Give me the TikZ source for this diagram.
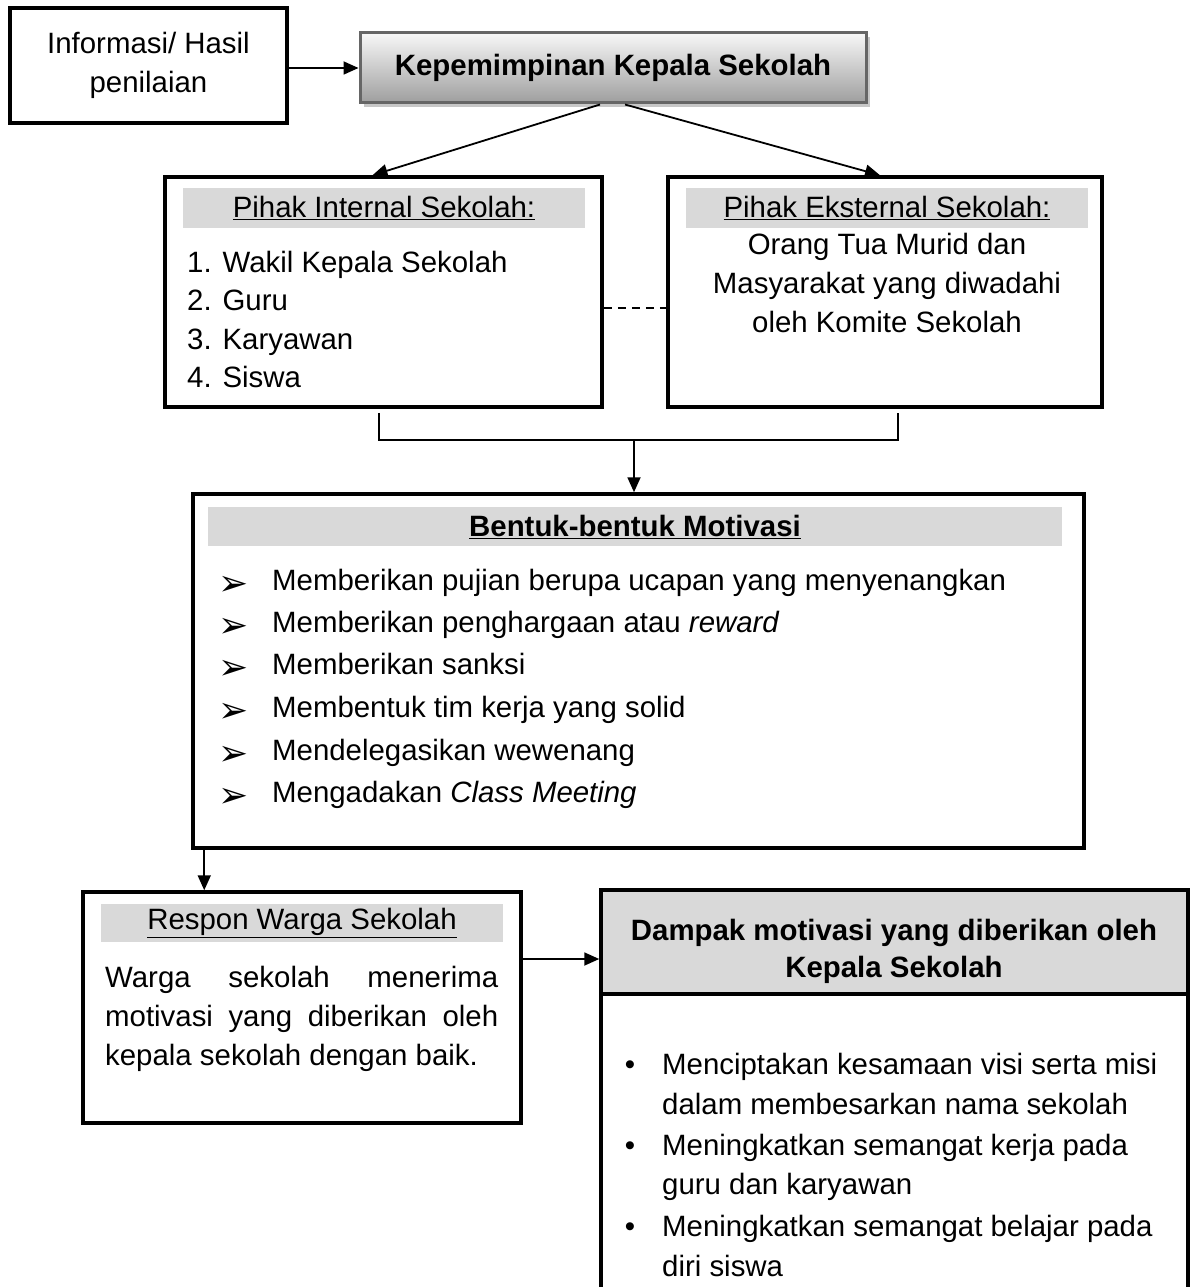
\documentclass[tikz,border=0pt]{standalone}
\usepackage{fontspec}
\setmainfont{Liberation Sans}
\newfontfamily\djv{DejaVu Sans}
\usetikzlibrary{arrows.meta,shadows}
\begin{document}
\begin{tikzpicture}[x=1pt,y=-1pt,
  bx/.style={draw=black, line width=3.5pt, fill=white, inner sep=0pt},
  hdr/.style={fill=black!15, draw=none, inner sep=0pt},
  conn/.style={line width=1.8pt},
  arr/.style={conn, -{Triangle[length=15pt,width=13pt]}},
  dashline/.style={line width=1.5pt, dash pattern=on 8pt off 6pt},
  txt/.style={font=\fontsize{29.4}{39}\selectfont, inner sep=0pt},
  btxt/.style={font=\fontsize{29.4}{39}\selectfont\bfseries, inner sep=0pt},
]
\useasboundingbox (0,0) rectangle (1190,1287);
\clip (0,0) rectangle (1190,1287);

% boxes
\node[bx, minimum width=277pt, minimum height=115pt] (info) at (148.5,65.5) {};
\node[draw=black!60, line width=3pt, top color=black!3, bottom color=black!38,
      minimum width=506pt, minimum height=70pt, inner sep=0pt,
      drop shadow={shadow xshift=4pt, shadow yshift=-4pt, fill=black!22, opacity=1}] (kep) at (613,68) {};
\node[bx, minimum width=437pt, minimum height=230pt] (int) at (383.5,292) {};
\node[bx, minimum width=434pt, minimum height=230pt] (ext) at (885,292) {};
\node[bx, minimum width=891pt, minimum height=354pt] (bentuk) at (638.5,671) {};
\node[bx, minimum width=438pt, minimum height=231pt] (respon) at (302,1007.5) {};
\node[bx, minimum width=587pt, minimum height=430pt] (dampak) at (894.5,1105) {};
\node[bx, fill=black!15, minimum width=587pt, minimum height=104pt] (dampH) at (894.5,942) {};

% header bars
\node[hdr, minimum width=402pt, minimum height=40pt] (intH) at (384,208) {};
\node[hdr, minimum width=402pt, minimum height=40pt] (extH) at (887,208) {};
\node[hdr, minimum width=854pt, minimum height=39pt] (bentH) at (635,526.5) {};
\node[hdr, minimum width=402pt, minimum height=38pt] (respH) at (302,923) {};

% texts
\node[txt, align=center] (infoT) at (info) {Informasi/ Hasil\\penilaian};
\node[btxt] (kepT) at (kep) {Kepemimpinan Kepala Sekolah};
\node[txt] (intHT) at (intH) {\underline{Pihak Internal Sekolah:}};
\node[txt] (extHT) at (extH) {\underline{Pihak Eksternal Sekolah:}};
\node[txt, anchor=base west] (i1) at (187,272) {1. Wakil Kepala Sekolah};
\node[txt, anchor=base west] (i2) at (187,310) {2. Guru};
\node[txt, anchor=base west] (i3) at (187,349) {3. Karyawan};
\node[txt, anchor=base west] (i4) at (187,387) {4. Siswa};
\node[txt, anchor=base] (e1) at (887,254) {Orang Tua Murid dan};
\node[txt, anchor=base] (e2) at (887,293) {Masyarakat yang diwadahi};
\node[txt, anchor=base] (e3) at (887,332) {oleh Komite Sekolah};

\node[btxt] (bentHT) at (bentH) {\underline{Bentuk-bentuk Motivasi}};
\foreach \yy/\tt [count=\k] in {590/{Memberikan pujian berupa ucapan yang menyenangkan},
  632/{Memberikan penghargaan atau \textit{reward}},
  674/{Memberikan sanksi},
  717/{Membentuk tim kerja yang solid},
  760/{Mendelegasikan wewenang},
  802/{Mengadakan \textit{Class Meeting}}}{
  \node[txt, anchor=base, font=\djv\fontsize{36}{40}\selectfont] (bm\k) at (234,\yy+5) {➢};
  \node[txt, anchor=base west] (bt\k) at (272,\yy) {\tt};
}

\node[txt] (respHT) at (respH) {\underline{Respon Warga Sekolah}};
\node[txt, anchor=base west] (r1) at (105,987) {\makebox[393pt][s]{Warga sekolah menerima}};
\node[txt, anchor=base west] (r2) at (105,1026) {\makebox[393pt][s]{motivasi yang diberikan oleh}};
\node[txt, anchor=base west] (r3) at (105,1065) {kepala sekolah dengan baik.};

\node[btxt, anchor=base] (d1) at (894,940) {Dampak motivasi yang diberikan oleh};
\node[btxt, anchor=base] (d2) at (894,977) {Kepala Sekolah};
\foreach \yy/\tt [count=\k] in {1074/{Menciptakan kesamaan visi serta misi},
  1114/{dalam membesarkan nama sekolah},
  1155/{Meningkatkan semangat kerja pada},
  1194/{guru dan karyawan},
  1236/{Meningkatkan semangat belajar pada},
  1276/{diri siswa}}{
  \node[txt, anchor=base west] (dt\k) at (662,\yy) {\tt};
}
\node[txt, anchor=base] (db1) at (630,1074) {•};
\node[txt, anchor=base] (db2) at (630,1155) {•};
\node[txt, anchor=base] (db3) at (630,1236) {•};

% connectors
\draw[arr] (info.east |- kep.west) -- (kep.west);
\draw[arr] ([xshift=-13pt]kep.south) -- ([xshift=-11pt]int.north);
\draw[arr] ([xshift=12pt]kep.south) -- ([xshift=-5pt]ext.north);
\draw[dashline] ([yshift=-16pt]int.east) -- ([yshift=-16pt]int.east -| ext.west);
\coordinate (jl) at (379,440);
\coordinate (jr) at (898,440);
\coordinate (jm) at (634,440);
\draw[conn] ([yshift=-4pt]int.south -| jl) -- (jl) -- (jr) -- ([yshift=-4pt]ext.south -| jr);
\draw[arr] (jm) -- (jm |- bentuk.north);
\draw[arr] ([xshift=13pt]bentuk.south west) -- ([xshift=13pt]bentuk.south west |- respon.north);
\draw[arr] ([yshift=48.5pt]respon.east) -- ([yshift=48.5pt]respon.east -| dampak.west);
\end{tikzpicture}
\end{document}
